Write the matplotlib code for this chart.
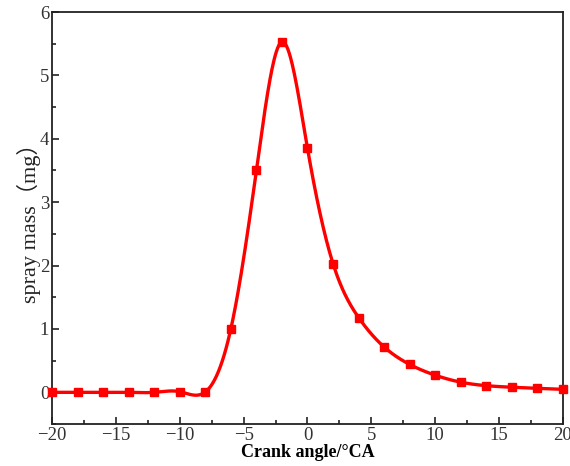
import numpy as np
import matplotlib
matplotlib.use("Agg")
import matplotlib.pyplot as plt
from matplotlib.ticker import MultipleLocator

# Crank angle (deg CA) and injected spray mass (mg)
crank_angle = [-20, -18, -16, -14, -12, -10, -8, -6, -4, -2, 0,
               2, 4, 6, 8, 10, 12, 14, 16, 18, 20]
spray_mass = [0.0, 0.0, 0.0, 0.0, 0.0, 0.01, 0.005, 1.0, 3.5, 5.53, 3.85,
              2.03, 1.18, 0.715, 0.44, 0.27, 0.16, 0.105, 0.08, 0.063, 0.047]

x_ticks = [-20, -15, -10, -5, 0, 5, 10, 15, 20]
y_ticks = [0, 1, 2, 3, 4, 5, 6]


def natural_cubic_spline(x, y, xs):
    x = np.asarray(x, float)
    y = np.asarray(y, float)
    n = len(x)
    h = np.diff(x)
    A = np.zeros((n, n))
    b = np.zeros(n)
    A[0, 0] = A[-1, -1] = 1.0
    for i in range(1, n - 1):
        A[i, i - 1] = h[i - 1]
        A[i, i] = 2 * (h[i - 1] + h[i])
        A[i, i + 1] = h[i]
        b[i] = 3 * ((y[i + 1] - y[i]) / h[i] - (y[i] - y[i - 1]) / h[i - 1])
    c = np.linalg.solve(A, b)
    bb = (y[1:] - y[:-1]) / h - h * (2 * c[:-1] + c[1:]) / 3
    d = (c[1:] - c[:-1]) / (3 * h)
    idx = np.clip(np.searchsorted(x, xs) - 1, 0, n - 2)
    t = xs - x[idx]
    return y[idx] + bb[idx] * t + c[idx] * t ** 2 + d[idx] * t ** 3


plt.rcParams['font.family'] = ['Liberation Serif', 'Noto Sans CJK SC']
plt.rcParams['axes.unicode_minus'] = True

fig = plt.figure(figsize=(5.70, 4.66), dpi=100)
ax = fig.add_axes([0.0912, 0.0901, 0.8965, 0.8841])

xs = np.linspace(crank_angle[0], crank_angle[-1], 800)
ys = natural_cubic_spline(crank_angle, spray_mass, xs)
ax.plot(xs, ys, color='#ff0000', lw=2.4, zorder=2)
ax.plot(crank_angle, spray_mass, ls='none', marker='s', ms=6.2,
        color='#ff0000', zorder=3, clip_on=False)

ax.set_xlim(-20, 20)
ax.set_ylim(-0.5, 6)
ax.set_xticks(x_ticks)
ax.set_yticks(y_ticks)
ax.xaxis.set_minor_locator(MultipleLocator(2.5))
ax.yaxis.set_minor_locator(MultipleLocator(0.5))
ax.tick_params(which='both', direction='in', top=False, right=False,
               width=1.2, colors='#222222', labelsize=13.5, labelcolor='#333333')
ax.tick_params(which='major', length=5, pad=2)
ax.tick_params(which='minor', length=3)
for s in ax.spines.values():
    s.set_linewidth(1.3)
    s.set_color('#222222')

ax.set_xlabel('Crank angle/°CA', fontsize=13, fontweight='bold', labelpad=0)
ax.set_ylabel('spray mass（mg）', fontsize=16, labelpad=-1, color='#222222')

fig.savefig('out.png', dpi=100)
